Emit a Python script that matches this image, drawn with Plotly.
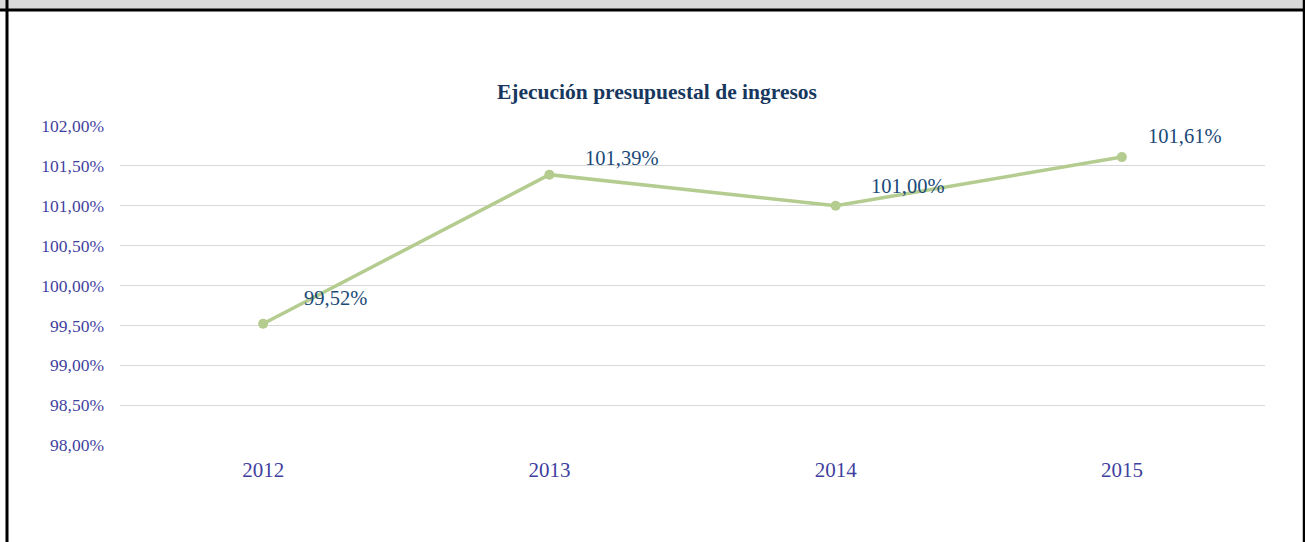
import plotly.graph_objects as go

PCT = "&#37;"
years = ["2012", "2013", "2014", "2015"]
execution_pct = [99.52, 101.39, 101.00, 101.61]
label_texts = ["99,52", "101,39", "101,00", "101,61"]
y_ticks = [98.0, 98.5, 99.0, 99.5, 100.0, 100.5, 101.0, 101.5, 102.0]
y_tick_text = [f"{v:.2f}".replace(".", ",") + PCT for v in y_ticks]
title_text = "Ejecución presupuestal de ingresos"

W, H = 1305, 542
label_shift = [(72, 26), (72, 17), (72, 20), (63, 21)]

fig = go.Figure()
fig.add_trace(go.Scatter(
    x=years, y=execution_pct, mode="lines+markers",
    line=dict(color="#B4CC8F", width=3.5),
    marker=dict(color="#B4CC8F", size=10),
    hoverinfo="skip", showlegend=False,
))
for i, (v, t, (dx, dy)) in enumerate(zip(execution_pct, label_texts, label_shift)):
    fig.add_annotation(x=i, y=v, text=t + PCT, showarrow=False, xref="x", yref="y",
                       xshift=dx, yshift=dy,
                       font=dict(family="Liberation Serif", size=20.5, color="#1A4A78"))

px = lambda p: p / W
py = lambda p: 1 - p / H
fig.add_annotation(x=px(657), y=py(92), xref="paper", yref="paper", text="<b>" + title_text + "</b>",
                   showarrow=False, xanchor="center", yanchor="middle",
                   font=dict(family="Liberation Serif", size=21.5, color="#17375E"))

shapes = [
    dict(type="rect", xref="paper", yref="paper", x0=0, x1=1, y0=py(0), y1=py(9.5),
         fillcolor="#D9D9D9", line=dict(width=0), layer="below"),
    dict(type="line", xref="paper", yref="paper", x0=0, x1=1, y0=py(10), y1=py(10),
         line=dict(color="black", width=3)),
    dict(type="line", xref="paper", yref="paper", x0=px(7), x1=px(7), y0=0, y1=1,
         line=dict(color="black", width=3)),
    dict(type="line", xref="paper", yref="paper", x0=px(1304), x1=px(1304), y0=0, y1=1,
         line=dict(color="black", width=2.5)),
]

fig.update_layout(
    template="none",
    width=W, height=H, margin=dict(l=0, r=0, t=0, b=0, pad=0),
    paper_bgcolor="white", plot_bgcolor="white",
    separators=",.",
    shapes=shapes,
    xaxis=dict(domain=[px(120), px(1265)], range=[-0.5, 3.5], type="category",
               showgrid=False, zeroline=False, showline=False, ticks="", automargin=False,
               tickfont=dict(family="Liberation Serif", size=21, color="#3F3FA0"),
               ticklabelstandoff=10),
    yaxis=dict(domain=[py(445), py(126)], range=[98, 102], tickvals=y_ticks,
               ticktext=y_tick_text, showgrid=True, gridcolor="#D9D9D9",
               gridwidth=1, zeroline=False, showline=False, ticks="", automargin=False,
               tickfont=dict(family="Liberation Serif", size=17.5, color="#3F3FA0"),
               ticklabelstandoff=15),
)
fig.write_html("out.html", post_script="document.body.style.margin='0';")
